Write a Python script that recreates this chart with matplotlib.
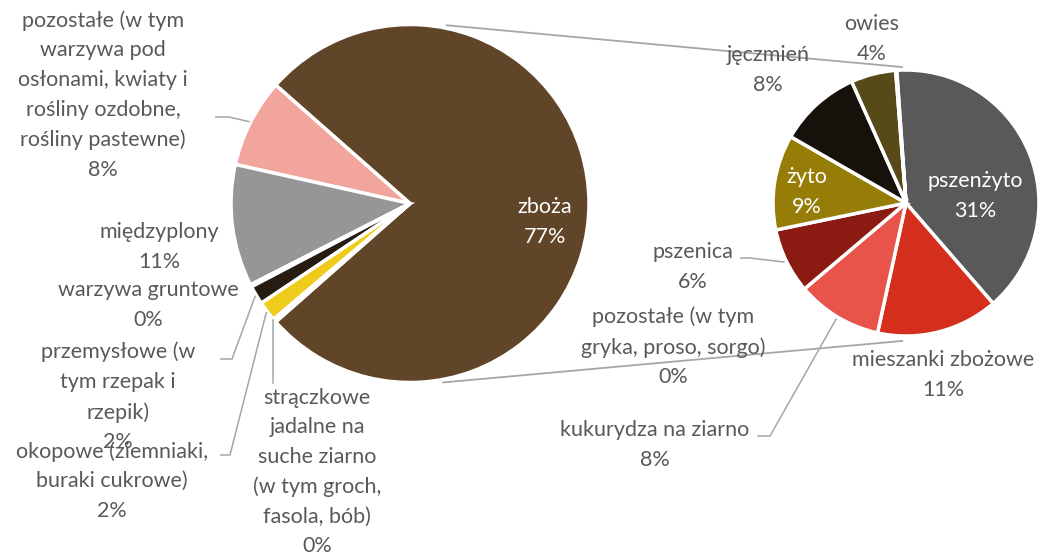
import matplotlib
matplotlib.use("Agg")
import matplotlib.pyplot as plt
import numpy as np

# ---- data ----
sec_labels = ["pszenżyto", "mieszanki zbożowe", "kukurydza na ziarno", "pszenica",
              "żyto", "jęczmień", "owies", "pozostałe (w tym\ngryka, proso, sorgo)"]
sec_values = [30.6, 11.4, 8.0, 6.1, 8.9, 7.7, 4.2, 0.1]
sec_colors = ["#595959", "#D42E1C", "#E9544A", "#8A1A12", "#967D08", "#16110B", "#574A18", "#7F7F7F"]

main_labels = ["zboża",
               "pozostałe (w tym\nwarzywa pod\nosłonami, kwiaty i\nrośliny ozdobne,\nrośliny pastewne)",
               "międzyplony", "warzywa gruntowe",
               "przemysłowe (w\ntym rzepak i\nrzepik)",
               "okopowe (ziemniaki,\nburaki cukrowe)",
               "strączkowe\njadalne na\nsuche ziarno\n(w tym groch,\nfasola, bób)"]
main_values = [sum(sec_values), 8.0, 11.0, 0.2, 1.7, 1.8, 0.3]
main_colors = ["#614529", "#F2A59D", "#969696", "#261C11", "#261C11", "#EFCB1B", "#EFCB1B"]

W, H = 1038, 554
TXT = "#595959"
LINE = "#A6A6A6"
plt.rcParams['font.family'] = ['Lato', 'DejaVu Sans']

fig = plt.figure(figsize=(W / 100, H / 100), dpi=100)
ax = fig.add_axes([0, 0, 1, 1])
ax.set_xlim(0, W)
ax.set_ylim(0, H)
ax.set_aspect('equal')
ax.axis('off')

def P(x, y):
    return x, H - y

mc = P(410, 203.5); mr = 179
sc = P(906, 203); sr = 133

main_total = sum(main_values)
start_main = -360 * main_values[0] / main_total / 2
ax.pie(main_values, colors=main_colors, center=mc, radius=mr, startangle=start_main,
       counterclock=True, wedgeprops=dict(edgecolor="white", linewidth=2.5))
sec_start = 94
ax.pie(sec_values, colors=sec_colors, center=sc, radius=sr, startangle=sec_start,
       counterclock=False, wedgeprops=dict(edgecolor="white", linewidth=2.5))
ax.set_xlim(0, W); ax.set_ylim(0, H)

def pct(v, t):
    return f"{int(round(v / t * 100))}%"

# main slice angles
cum = np.cumsum([0] + main_values)
m_ang = [start_main + 360 * (cum[i] + main_values[i] / 2) / main_total for i in range(len(main_values))]
m_end = [start_main + 360 * cum[i + 1] / main_total for i in range(len(main_values))]
scum = np.cumsum([0] + sec_values)
sec_sum = sum(sec_values)
s_ang = [sec_start - 360 * (scum[i] + sec_values[i] / 2) / sec_sum for i in range(len(sec_values))]

def pt(center, r, ang):
    a = np.deg2rad(ang)
    return center[0] + r * np.cos(a), center[1] + r * np.sin(a)

FS = 15.5
LS = 1.6

def label(text, x, y, color=TXT):
    ax.text(*P(x, y), text, ha="center", va="center", multialignment="center",
            fontsize=FS, color=color, linespacing=LS)

# main labels
label(main_labels[0] + "\n" + pct(main_values[0], main_total), 545, 222, "white")
label(main_labels[1] + "\n" + pct(main_values[1], main_total), 103, 95)
label(main_labels[2] + "\n" + pct(main_values[2], main_total), 159, 247)
label(main_labels[3] + "\n" + pct(main_values[3], main_total), 148, 305)
label(main_labels[4] + "\n" + pct(main_values[4], main_total), 118, 397)
label(main_labels[5] + "\n" + pct(main_values[5], main_total), 112, 481)
label(main_labels[6] + "\n" + pct(main_values[6], main_total), 317, 472)

# secondary labels
label(sec_labels[0] + "\n" + pct(sec_values[0], main_total), 975, 196, "white")
label(sec_labels[1] + "\n" + pct(sec_values[1], main_total), 943, 375)
label(sec_labels[2] + "\n" + pct(sec_values[2], main_total), 655, 445)
label(sec_labels[3] + "\n" + pct(sec_values[3], main_total), 693, 267)
label(sec_labels[4] + "\n" + pct(sec_values[4], main_total), 807, 192, "white")
label(sec_labels[5] + "\n" + pct(sec_values[5], main_total), 768, 70)
label(sec_labels[6] + "\n" + pct(sec_values[6], main_total), 872, 39)
label(sec_labels[7] + "\n" + pct(sec_values[7], main_total), 673, 347)

def leader(p_end, elbow, start):
    xs = [P(*start)[0], P(*elbow)[0], p_end[0]]
    ys = [P(*start)[1], P(*elbow)[1], p_end[1]]
    ax.plot(xs, ys, color=LINE, lw=1.1, solid_capstyle="butt")

leader(pt(mc, mr + 1, m_ang[1]), (229, 117), (215, 117))
leader(pt(mc, mr + 1, m_ang[4]), (232, 359), (220, 359))
leader(pt(mc, mr + 1, m_ang[5]), (230, 455), (220, 455))
e = pt(mc, mr + 1, m_end[5])
ax.plot([e[0], e[0]], [e[1], P(0, 383)[1]], color=LINE, lw=1.1)
leader(pt(sc, sr + 2, s_ang[3]), (750, 258), (740, 258))
leader(pt(sc, sr + 2, s_ang[2]), (770, 436), (757, 436))

# connector lines between pies
a1 = pt(mc, mr + 3, 78.3); b1 = pt(sc, sr + 3, 91.7)
a2 = pt(mc, mr + 3, -79.5); b2 = pt(sc, sr + 5, -91.6)
ax.plot([a1[0], b1[0]], [a1[1], b1[1]], color=LINE, lw=1.3)
ax.plot([a2[0], b2[0]], [a2[1], b2[1]], color=LINE, lw=1.3)

fig.savefig("out.png", dpi=100, facecolor="white")
